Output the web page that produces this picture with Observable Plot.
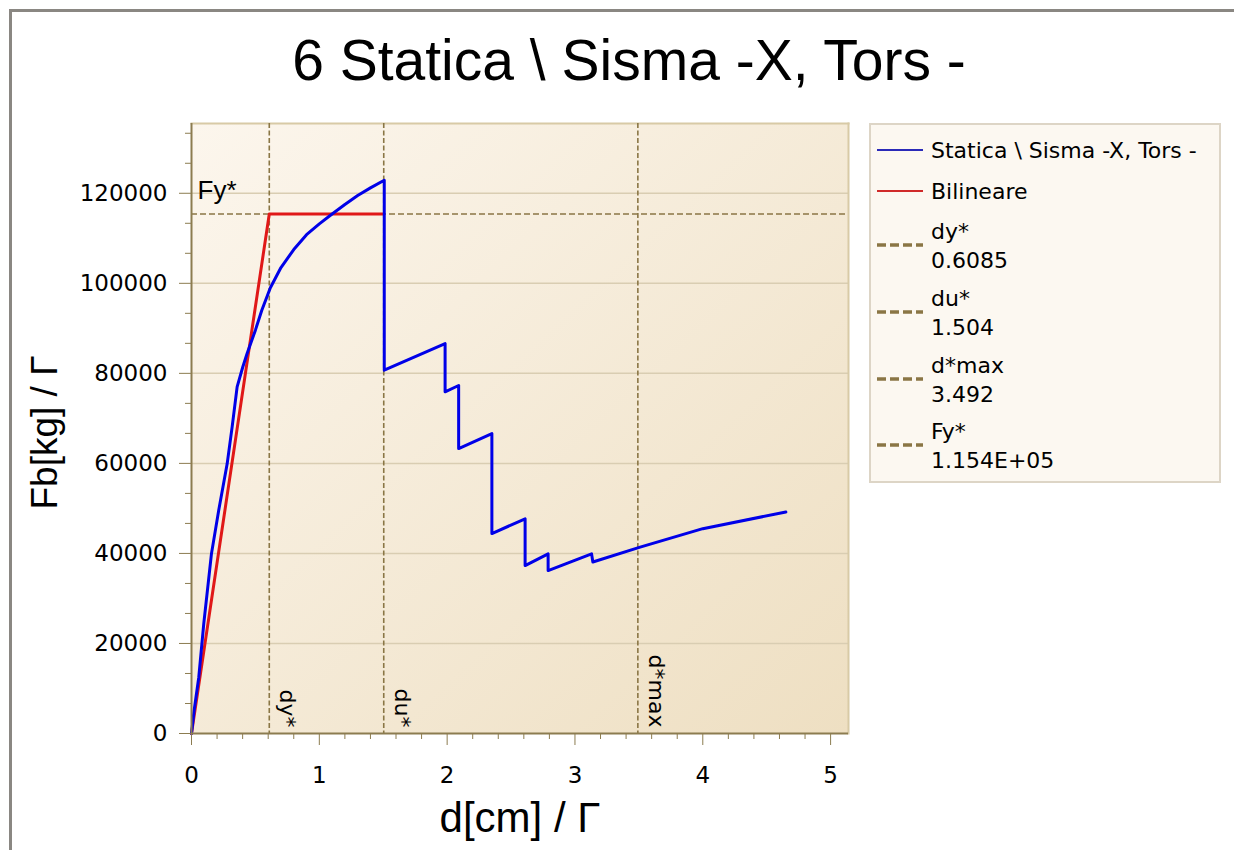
<!DOCTYPE html>
<html>
<head>
<meta charset="utf-8">
<script src="https://cdn.jsdelivr.net/npm/d3@7"></script>
<script src="https://cdn.jsdelivr.net/npm/@observablehq/plot@0.6"></script>
<style>
  html, body { margin: 0; padding: 0; background: #fff; }
  #wrap { position: relative; width: 1234px; height: 850px; overflow: hidden; background: #fff; }
  #frame { position: absolute; left: 9px; top: 9px; width: 1400px; height: 1000px; border: 3px solid #8a8782; box-sizing: border-box; }
  #title { position: absolute; left: 0; width: 1258px; top: 27px; text-align: center; font-family: "Liberation Sans", Arial, sans-serif; font-size: 57px; color: #000; white-space: nowrap; }
  #chart { position: absolute; left: 0; top: 0; }
  #legend { position: absolute; left: 869px; top: 123px; width: 352px; height: 360px; box-sizing: border-box; border: 2px solid #ddd5c6; background: #fcf8f1; font-family: "DejaVu Sans", Verdana, sans-serif; font-size: 22px; color: #000; }
  .sw { position: absolute; left: 6px; }
  .lt { position: absolute; left: 60px; line-height: 29px; white-space: nowrap; }
</style>
</head>
<body>
<div id="wrap">
  <div id="frame"></div>
  <div id="title"></div>
  <div id="chart"></div>
  <div id="legend"></div>
</div>
<script>
// ---- data ----
const titleText = "6 Statica \\ Sisma -X, Tors -";
const seriesName = "Statica \\ Sisma -X, Tors -";
const bilinName = "Bilineare";
const xLabel = "d[cm] / Γ";
const yLabel = "Fb[kg] / Γ";

const curveX = [0, 0.02, 0.057, 0.096, 0.156, 0.213, 0.279, 0.318, 0.357, 0.4, 0.435, 0.5, 0.55, 0.617, 0.7, 0.8, 0.9, 1.0, 1.1, 1.2, 1.3, 1.4, 1.508, 1.508, 1.984, 1.984, 2.09, 2.09, 2.35, 2.35, 2.61, 2.61, 2.79, 2.79, 3.13, 3.14, 3.51, 4.0, 4.65];
const curveY = [0, 5000, 12500, 24400, 39900, 49600, 59900, 68100, 77000, 81300, 84400, 89600, 94000, 99000, 103500, 107500, 110800, 113200, 115400, 117500, 119500, 121200, 122900, 80700, 86600, 75900, 77300, 63300, 66600, 44400, 47700, 37300, 39900, 36200, 39900, 38100, 41400, 45500, 49200];

const bilinX = [0, 0.6085, 1.504];
const bilinY = [0, 115400, 115400];

const refNames = ["dy*", "du*", "d*max"];
const refValues = [0.6085, 1.504, 3.492];
const refLegend = ["0.6085", "1.504", "3.492"];
const fyName = "Fy*";
const fyValue = 115400;
const fyLegend = "1.154E+05";

const xMajor = [0, 1, 2, 3, 4, 5];
const xMinor = [0.2, 0.4, 0.6, 0.8, 1.2, 1.4, 1.6, 1.8, 2.2, 2.4, 2.6, 2.8, 3.2, 3.4, 3.6, 3.8, 4.2, 4.4, 4.6, 4.8];
const yMajor = [0, 20000, 40000, 60000, 80000, 100000, 120000];
const yMinor = [6666.67, 13333.33, 26666.67, 33333.33, 46666.67, 53333.33, 66666.67, 73333.33, 86666.67, 93333.33, 106666.67, 113333.33, 126666.67, 133333.33];

// ---- build ----
const curve = curveX.map((x, i) => ({x, y: curveY[i]}));
const bilin = bilinX.map((x, i) => ({x, y: bilinY[i]}));
const refs = refValues.map((v, i) => ({v, name: refNames[i]}));

const olive = "#8a7645";
const axisCol = "#8c7c50";

const defs = () => {
  const d = d3.create("svg:defs");
  const g = d.append("linearGradient").attr("id", "bgGrad").attr("x1", "0").attr("y1", "0").attr("x2", "1").attr("y2", "1");
  g.append("stop").attr("offset", "0").attr("stop-color", "#fcf6ed");
  g.append("stop").attr("offset", "1").attr("stop-color", "#eedfc2");
  return d.node();
};

const chart = Plot.plot({
  width: 860,
  height: 850,
  marginLeft: 191,
  marginRight: 12,
  marginTop: 123,
  marginBottom: 117,
  x: {domain: [0, 5.14], label: null},
  y: {domain: [0, 135500], label: null},
  style: {fontFamily: "DejaVu Sans, Verdana, sans-serif", fontSize: "23px", color: "#000", background: "transparent", overflow: "visible"},
  marks: [
    defs,
    Plot.frame({fill: "url(#bgGrad)", stroke: null}),
    Plot.gridY(yMajor.filter(d => d > 0), {stroke: "#d9cdb2", strokeOpacity: 1, strokeWidth: 1.5}),
    Plot.frame({anchor: "top", stroke: "#d8caa6", strokeWidth: 2}),
    Plot.frame({anchor: "right", stroke: "#d8caa6", strokeWidth: 2}),
    Plot.ruleY([fyValue], {stroke: olive, strokeWidth: 1.6, strokeDasharray: "6,3"}),
    Plot.ruleX(refs, {x: "v", stroke: olive, strokeWidth: 1.6, strokeDasharray: "5,2.5"}),
    Plot.text(refs, {x: "v", y: 0, text: "name", rotate: 90, textAnchor: "end", dx: 18, dy: -6, fontSize: 22, fill: "#000"}),
    Plot.text([fyName], {x: 0, y: fyValue, text: d => d, textAnchor: "start", dx: 6, dy: -23, fontSize: 26, fontFamily: "Liberation Sans, Arial, sans-serif", fill: "#000"}),
    Plot.line(bilin, {x: "x", y: "y", stroke: "#e01818", strokeWidth: 3}),
    Plot.line(curve, {x: "x", y: "y", stroke: "#0000e8", strokeWidth: 3}),
    Plot.ruleX([0], {stroke: axisCol, strokeWidth: 2}),
    Plot.ruleY([0], {stroke: axisCol, strokeWidth: 2}),
    Plot.axisY(yMajor, {tickSize: 12, tickPadding: 12, stroke: axisCol, fill: "#000", tickFormat: d => String(d), label: null}),
    Plot.axisY(yMinor, {tickSize: 6, stroke: axisCol, tickFormat: () => "", label: null}),
    Plot.axisX(xMajor, {tickSize: 12, tickPadding: 21, stroke: axisCol, fill: "#000", tickFormat: d => String(d), label: null}),
    Plot.axisX(xMinor, {tickSize: 6, stroke: axisCol, tickFormat: () => "", label: null}),
    Plot.text([yLabel], {text: d => d, frameAnchor: "left", textAnchor: "middle", lineAnchor: "middle", dx: -146, dy: 4, rotate: -90, fontSize: 37, fontFamily: "Liberation Sans, Arial, sans-serif", fill: "#000"}),
    Plot.text([xLabel], {text: d => d, frameAnchor: "bottom", textAnchor: "middle", lineAnchor: "middle", dy: 85, fontSize: 42, fontFamily: "Liberation Sans, Arial, sans-serif", fill: "#000"})
  ]
});
document.getElementById("chart").appendChild(chart);
document.getElementById("title").textContent = titleText;

// ---- legend ----
const legend = document.getElementById("legend");
const NS = "http://www.w3.org/2000/svg";
function swatch(top, color, width, dash) {
  const s = document.createElementNS(NS, "svg");
  s.setAttribute("width", "48"); s.setAttribute("height", "10");
  s.setAttribute("class", "sw");
  s.style.top = (top - 5) + "px";
  const l = document.createElementNS(NS, "line");
  l.setAttribute("x1", "0"); l.setAttribute("x2", "46"); l.setAttribute("y1", "5"); l.setAttribute("y2", "5");
  l.setAttribute("stroke", color); l.setAttribute("stroke-width", width);
  if (dash) l.setAttribute("stroke-dasharray", dash);
  s.appendChild(l);
  legend.appendChild(s);
}
function label(top, text) {
  const t = document.createElement("div");
  t.className = "lt";
  t.style.top = (top - 14.5) + "px";
  t.textContent = text;
  legend.appendChild(t);
}
swatch(25, "#2a2ab8", 2);
label(25, seriesName);
swatch(66, "#d02a2a", 2);
label(66, bilinName);
const dashTops = [120, 187, 254, 320];
const names = refNames.concat([fyName]);
const vals = refLegend.concat([fyLegend]);
dashTops.forEach((t, i) => {
  swatch(t, olive, 3.5, "9,4");
  label(t - 14, names[i]);
  label(t + 15, vals[i]);
});
</script>
</body>
</html>
